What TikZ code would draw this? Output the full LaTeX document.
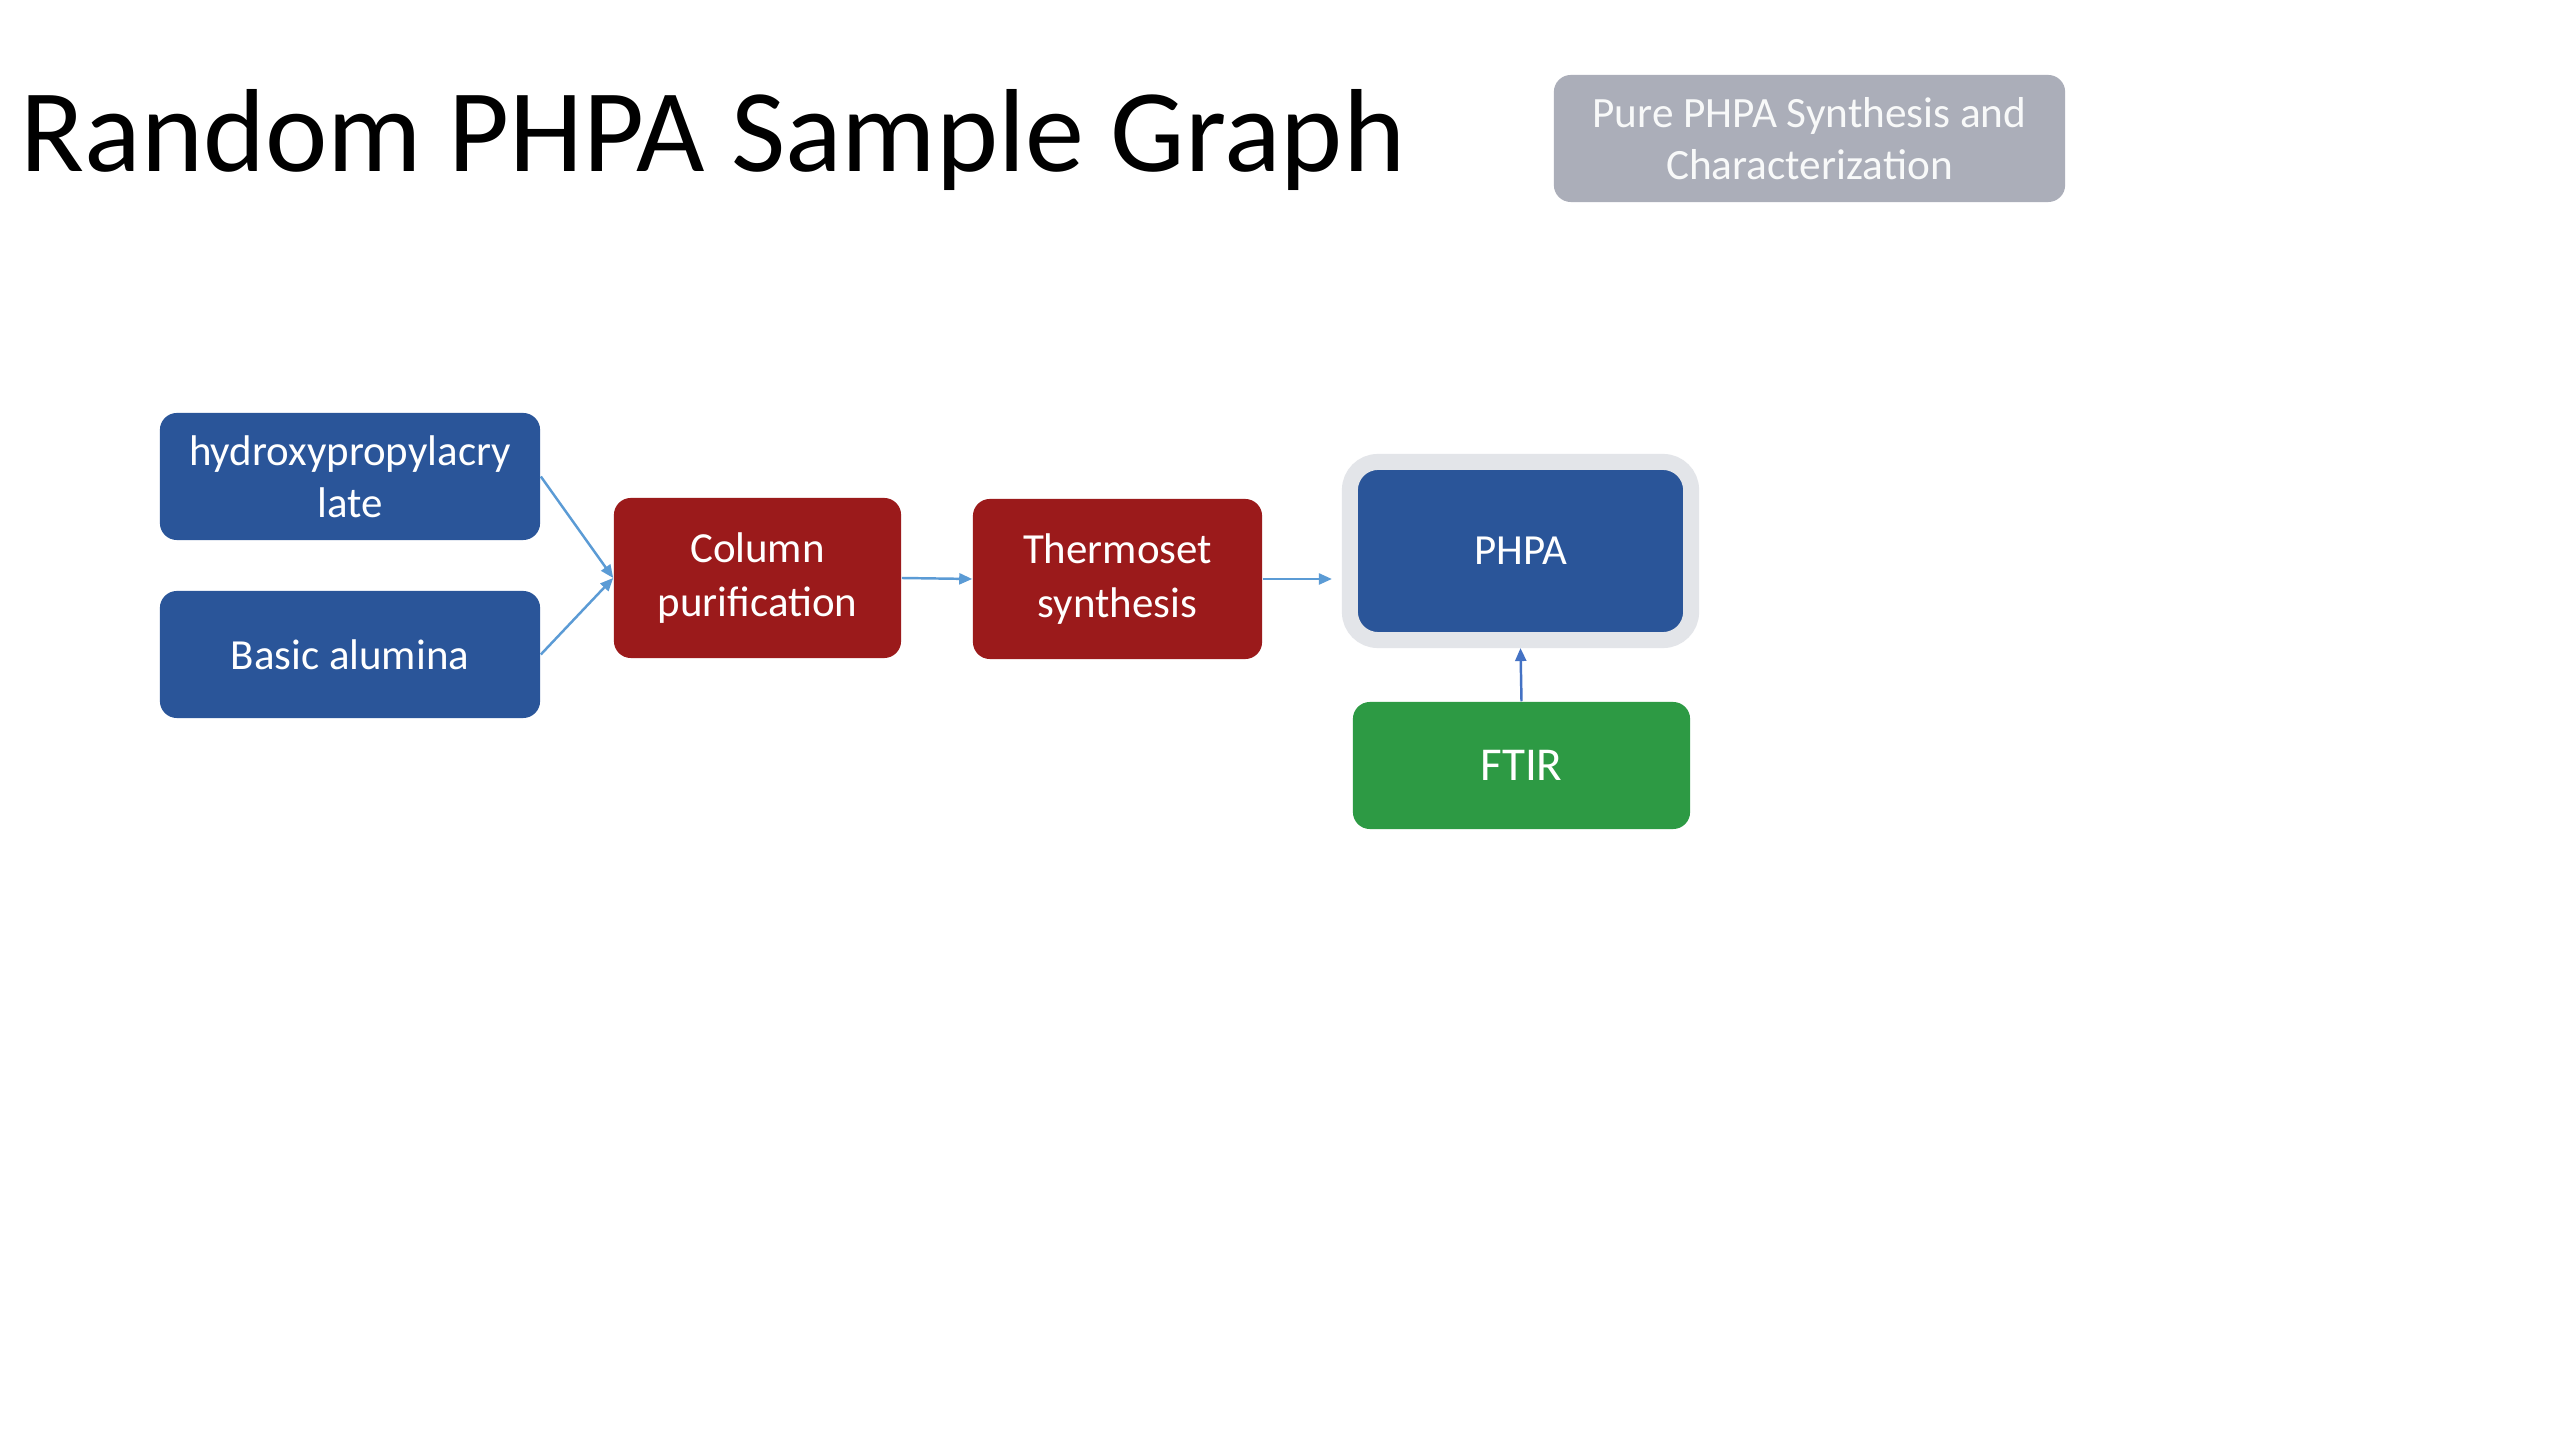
\documentclass[tikz,border=0pt]{standalone}
\usepackage{fontspec}
\setmainfont{Carlito}
\usetikzlibrary{arrows.meta}

\definecolor{boxblue}{HTML}{2A5599}
\definecolor{boxred}{HTML}{9B1A1B}
\definecolor{boxgreen}{HTML}{2D9A44}
\definecolor{boxgray}{HTML}{ABAEB9}
\definecolor{rimgray}{HTML}{E3E5E9}
\definecolor{linkblue}{HTML}{5B9BD5}
\definecolor{linkdark}{HTML}{4472C4}

\tikzset{
  stagebox/.style={rounded corners=0.17cm, text=white, align=center,
    font=\fontsize{12.2}{14.8}\selectfont, inner sep=0pt},
  link/.style={draw=linkblue, line width=0.7pt,
    -{Triangle[length=0.13cm,width=0.11cm]}},
}

\begin{document}
\begin{tikzpicture}[x=0.01cm,y=-0.01cm]

\useasboundingbox[fill=white] (0,0) rectangle (2560,1440);

%------------------------------------------------
% Title and header box
%------------------------------------------------

\node[anchor=base west, font=\fontsize{33.6}{40}\selectfont, inner sep=0pt] (title) at (20,172) {Random PHPA Sample Graph};

\node[stagebox, fill=boxgray, text=white!92!boxgray, minimum width=5.11cm, minimum height=1.27cm, font=\fontsize{12.3}{14.8}\selectfont] (header) at (1809.5,138.5) {Pure PHPA Synthesis and\\Characterization};

%------------------------------------------------
% Inputs
%------------------------------------------------

\node[stagebox, fill=boxblue, minimum width=3.8cm, minimum height=1.27cm] (hpa) at (350,476.5) {hydroxypropylacry\\late};
\node[stagebox, fill=boxblue, minimum width=3.8cm, minimum height=1.27cm] (alumina) at (350,654.5) {Basic alumina};

%------------------------------------------------
% Process steps
%------------------------------------------------

\node[stagebox, fill=boxred, minimum width=2.87cm, minimum height=1.6cm, font=\fontsize{12.2}{15.2}\selectfont] (column) at (757.5,578) {Column\\purification};
\node[stagebox, fill=boxred, minimum width=2.89cm, minimum height=1.6cm, font=\fontsize{12.2}{15.2}\selectfont] (thermoset) at (1117.5,579) {Thermoset\\synthesis};

%------------------------------------------------
% Product and characterization
%------------------------------------------------

\node[stagebox, fill=boxblue, draw=rimgray, line width=0.16cm, rounded corners=0.28cm, minimum width=3.41cm, minimum height=1.78cm] (phpa) at (1520.5,551) {PHPA};
\node[stagebox, fill=boxgreen, minimum width=3.37cm, minimum height=1.27cm, font=\fontsize{13.4}{16}\selectfont] (ftir) at (1521.5,765.5) {FTIR};

%------------------------------------------------
% Links
%------------------------------------------------

\draw[link] (hpa.east) -- (column.west);
\draw[link] (alumina.east) -- (column.west);
\draw[link] (column.east) -- (thermoset.west);
\draw[link, shorten >=0.1cm] (thermoset.east) -- (thermoset.east -| phpa.west);
\draw[link, draw=linkdark] (ftir.north) -- (phpa.south);

\end{tikzpicture}
\end{document}
